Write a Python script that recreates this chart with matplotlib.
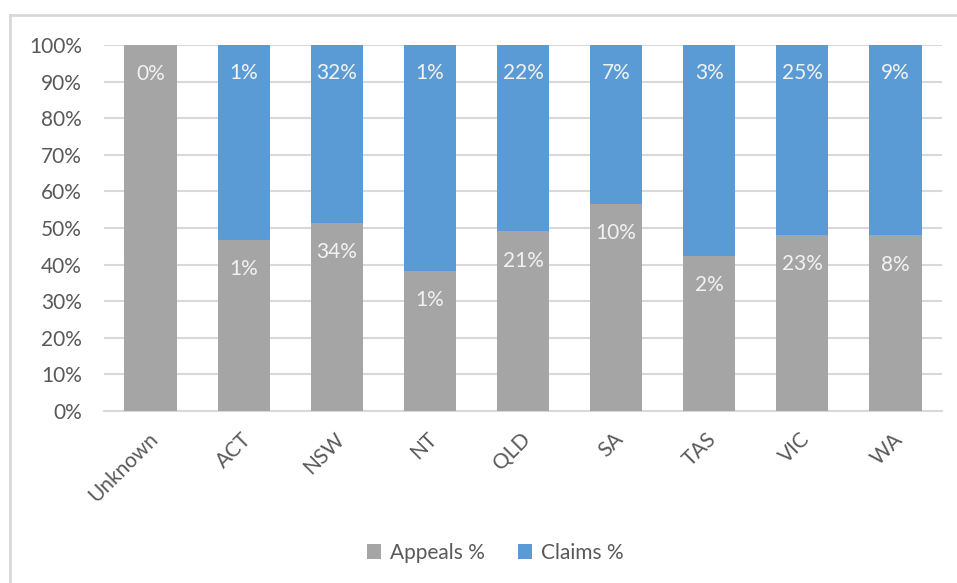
import matplotlib
matplotlib.use("Agg")
import matplotlib.pyplot as plt
import numpy as np
from matplotlib.patches import Patch
from matplotlib.lines import Line2D
from matplotlib import transforms

categories = ["Unknown", "ACT", "NSW", "NT", "QLD", "SA", "TAS", "VIC", "WA"]
appeals_pct = [0.4, 0.88, 34.4, 0.62, 21.3, 9.6, 2.2, 23.0, 8.2]
claims_pct = [0.0, 1.0, 32.5, 1.0, 22.1, 7.4, 3.0, 24.8, 8.9]
yticks = [0, 10, 20, 30, 40, 50, 60, 70, 80, 90, 100]

GRAY = "#A5A5A5"
BLUE = "#5B9BD5"
TXT = "#595959"
GRID = "#D9D9D9"

plt.rcParams['font.family'] = ['Lato', 'DejaVu Sans']

fig = plt.figure(figsize=(9.57, 5.83), dpi=100)
W, H = 957, 583
ax = fig.add_axes([104 / W, 1 - 411 / H, (942 - 104) / W, (411 - 45) / H])

a = np.array(appeals_pct)
c = np.array(claims_pct)
tot = a + c
a_share = a / tot * 100
c_share = c / tot * 100
x = np.arange(len(categories))
width = 0.56

ax.bar(x, a_share, width, color=GRAY, zorder=3, label="Appeals %")
ax.bar(x, c_share, width, bottom=a_share, color=BLUE, zorder=3, label="Claims %")

for i in range(len(categories)):
    ax.annotate(f"{round(a[i])}%", (x[i], a_share[i]), xytext=(0, -21),
                textcoords="offset points", ha="center", va="center",
                color="#F2F2F2", fontsize=15, zorder=4)
    if c[i] > 0:
        ax.annotate(f"{round(c[i])}%", (x[i], 100), xytext=(0, -20.5),
                    textcoords="offset points", ha="center", va="center",
                    color="#F2F2F2", fontsize=15, zorder=4)

ax.set_xlim(-0.5, len(categories) - 0.5)
ax.set_ylim(0, 100)
ax.set_yticks(yticks)
ax.set_yticklabels([f"{t}%" for t in yticks], fontsize=15, color=TXT)
ax.yaxis.grid(True, color=GRID, linewidth=1.5, zorder=0)
ax.tick_params(axis='y', length=0, pad=16)
ax.set_xticks(x)
ax.set_xticklabels(categories, rotation=45, ha="right", rotation_mode="anchor",
                   fontsize=15, color=TXT)
ax.tick_params(axis='x', length=0, pad=13)
offset = transforms.ScaledTranslation(-2 / 72, 0, fig.dpi_scale_trans)
for lbl in ax.get_xticklabels():
    lbl.set_transform(lbl.get_transform() + offset)
for s in ["top", "right", "left"]:
    ax.spines[s].set_visible(False)
ax.spines["bottom"].set_color(GRID)
ax.spines["bottom"].set_linewidth(1.5)

handles = [Patch(facecolor=GRAY), Patch(facecolor=BLUE)]
fig.legend(handles, ["Appeals %", "Claims %"], loc="center", bbox_to_anchor=(495 / W, 1 - 553 / H),
           ncol=2, frameon=False, fontsize=15, labelcolor=TXT, handlelength=0.7, handleheight=0.7,
           handletextpad=0.4, columnspacing=1.6)

# chart border
fig.add_artist(Line2D([10 / W, 10 / W], [0, 1 - 15 / H], transform=fig.transFigure, color=GRID, linewidth=2))
fig.add_artist(Line2D([10 / W, 1], [1 - 15 / H, 1 - 15 / H], transform=fig.transFigure, color=GRID, linewidth=2))

fig.savefig("out.png", dpi=100)
